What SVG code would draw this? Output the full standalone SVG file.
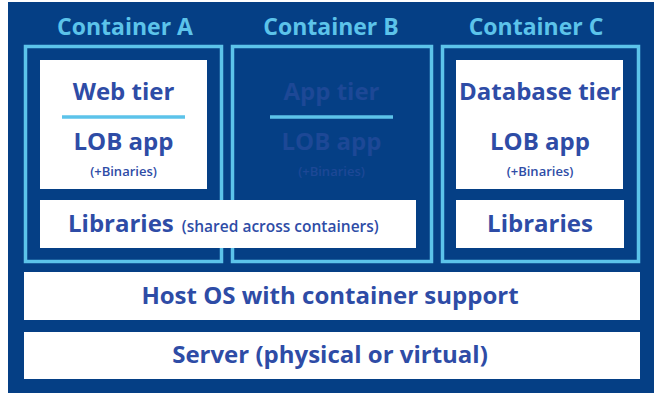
<svg xmlns="http://www.w3.org/2000/svg" width="654" height="393" viewBox="0 0 654 393">
<style>
.bg{fill:#053F85}
.cont{fill:none;stroke:#5CC3EA;stroke-width:3.5}
.box{fill:#FFFFFF}
.sep{stroke:#5CC3EA;stroke-width:3.5}
text{font-family:"Open Sans","Noto Sans","Liberation Sans",sans-serif;font-weight:700;text-anchor:middle}
.title{fill:#5CC3EA;font-size:23px}
.big{fill:#2E4CA6;font-size:24px}
.small{fill:#2E4CA6;font-size:13px;font-weight:600}
.mid{fill:#2E4CA6;font-size:15.5px;font-weight:600}
.faded{fill:#1D4896}
</style>
<rect class="bg" x="8" y="2" width="646" height="391"/>
<g id="containerA">
<rect class="cont" x="25.5" y="46.5" width="196" height="215"/>
<text class="title" x="125" y="35">Container A</text>
<rect class="box" x="40" y="60" width="167" height="129"/>
<text class="big" x="123.5" y="100">Web tier</text>
<line class="sep" x1="62" y1="117" x2="185" y2="117"/>
<text class="big" x="123.5" y="150">LOB app</text>
<text class="small" x="123.5" y="176">(+Binaries)</text>
</g>
<g id="containerB">
<rect class="cont" x="232.5" y="46.5" width="199" height="215"/>
<text class="title" x="331" y="35">Container B</text>
<text class="big faded" x="331.5" y="100">App tier</text>
<line class="sep" x1="270" y1="117" x2="393" y2="117"/>
<text class="big faded" x="331.5" y="150">LOB app</text>
<text class="small faded" x="331.5" y="176">(+Binaries)</text>
</g>
<g id="librariesA">
<rect class="box" x="40" y="200" width="376" height="48"/>
<text class="big" x="68" y="232" style="text-anchor:start">Libraries<tspan class="mid" dx="8">(shared across containers)</tspan></text>
</g>
<g id="containerC">
<rect class="cont" x="442.5" y="46.5" width="196" height="215"/>
<text class="title" x="536" y="35">Container C</text>
<rect class="box" x="456" y="60" width="167" height="129"/>
<text class="big" x="540" y="100">Database tier</text>
<text class="big" x="540" y="150">LOB app</text>
<text class="small" x="540" y="176">(+Binaries)</text>
</g>
<g id="librariesC">
<rect class="box" x="456" y="200" width="168" height="48"/>
<text class="big" x="540" y="232">Libraries</text>
</g>
<g id="hostOS">
<rect class="box" x="24" y="272" width="616" height="48"/>
<text class="big" x="330" y="304">Host OS with container support</text>
</g>
<g id="server">
<rect class="box" x="24" y="332" width="616" height="47"/>
<text class="big" x="330" y="363">Server (physical or virtual)</text>
</g>
<g id="connectors"></g>
</svg>
